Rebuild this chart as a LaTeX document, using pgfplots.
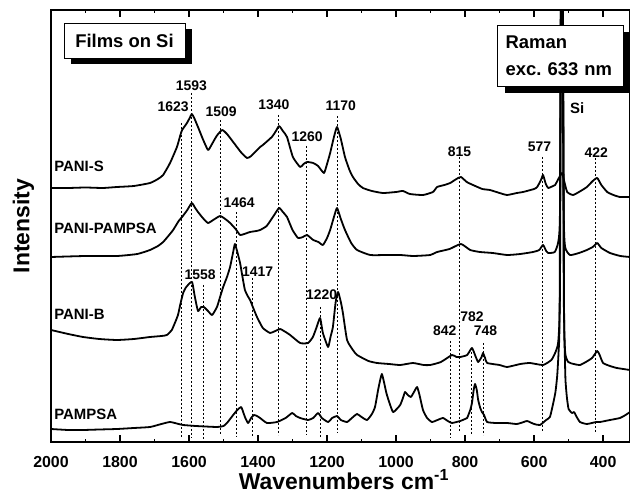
\documentclass[border=0pt]{standalone}
\usepackage{fontspec}
\setmainfont{Liberation Sans}
\usepackage{pgfplots}
\pgfplotsset{compat=1.18}

\newcommand{\pk}{\fontsize{14}{14}\selectfont\bfseries}
\newcommand{\cl}{\fontsize{15}{15}\selectfont\bfseries}
\newcommand{\bx}{\fontsize{18.5}{27}\selectfont\bfseries\frenchspacing}

\begin{document}
\begin{tikzpicture}
\begin{axis}[
    name=ax,
    scale only axis,
    width=579bp, height=432bp,
    xmin=322, xmax=2000, ymin=0, ymax=432,
    x dir=reverse,
    xtick={400,600,...,2000},
    minor x tick num=1,
    ytick=\empty,
    tick align=inside,
    major tick length=7bp, minor tick length=3.5bp,
    axis line style={line width=2bp},
    every tick/.style={line width=1.5bp, black},
    /pgf/number format/assume math mode=true,
    /pgf/number format/1000 sep={},
    xticklabel style={font=\fontsize{16}{16}\selectfont\bfseries, anchor=base, yshift=-25bp},
    xlabel={Wavenumbers cm\textsuperscript{-1}},
    ylabel={Intensity},
    xlabel style={font=\fontsize{23}{23}\selectfont\bfseries, at={(axis description cs:0.506,-0.111)}, anchor=base},
    ylabel style={font=\fontsize{23}{23}\selectfont\bfseries, at={(axis description cs:-0.0475,0.5)}, anchor=center},
    spec/.style={black, line width=1.8bp, line join=round, mark=none, smooth, tension=0.3},
    peak/.style={black, line width=0.8bp, dash pattern=on 2.5bp off 1.5bp, mark=none},
]

% PANI-S
\addplot[spec] coordinates {
(2000,254) (1950,254) (1900,254.5) (1850,254) (1809,255) (1760,256) (1713,259)
(1690,263) (1675,267) (1655,279) (1635,295) (1625,307) (1620,312) (1612,316)
(1606,319) (1598,324) (1592,328) (1585,324) (1574,315) (1560,303) (1545,292)
(1535,297) (1520,306) (1504,312) (1490,308) (1472,300) (1450,290) (1432,284)
(1420,286) (1394,295) (1386,297) (1360,305) (1348,311) (1339,316) (1328,311)
(1316,305) (1299,285) (1278,275) (1268,278) (1258,280) (1240,279) (1226,276)
(1209,269) (1200,278) (1191,289) (1180,305) (1171,315) (1160,303) (1148,285)
(1135,272) (1125,265) (1110,258) (1096,254) (1070,251) (1038,249) (1000,250)
(980,251) (960,248) (922,247) (893,250) (881,255) (860,257) (843,259) (825,263)
(812,265) (795,260) (777,257) (750,253) (728,252) (700,249) (678,247) (650,249)
(632,250) (600,253) (591,255) (580,262) (574,267) (566,258) (559,254) (545,256)
(539,257) (525,266) (519,269) (512,260) (504,250) (487,247) (465,251) (447,255)
(430,261) (417,264) (405,257) (388,250) (370,247) (351,245) (322,245)
};

% PANI-PAMPSA
\addplot[spec] coordinates {
(2000,185) (1900,186) (1809,186) (1750,188) (1713,192) (1690,196) (1675,200)
(1660,206) (1646,212) (1630,221) (1620,225) (1605,232) (1592,239) (1582,234)
(1574,230) (1560,224) (1545,219) (1530,222) (1510,226) (1495,223) (1481,219)
(1465,213) (1452,207) (1440,208) (1423,210) (1405,211) (1394,212) (1375,216)
(1355,226) (1339,234) (1328,230) (1316,225) (1300,212) (1284,204) (1270,205)
(1258,207) (1240,202) (1225,200) (1212,197) (1200,204) (1191,212) (1180,225)
(1171,234) (1160,223) (1148,212) (1130,199) (1113,192) (1075,187) (1030,187)
(988,187) (950,186) (901,187) (881,190) (845,193) (812,198) (785,192) (757,190)
(720,189) (678,187) (640,188) (603,190) (585,192) (574,197) (565,191) (559,189)
(540,190) (530,200) (525,230) (521.5,500) (517.5,500) (514,230) (510,195) (496,187)
(470,189) (447,192) (430,195) (417,199) (405,194) (380,189) (350,186) (322,185)
};

% PANI-B
\addplot[spec] coordinates {
(2000,112) (1950,108) (1907,105) (1860,103) (1809,102) (1760,103) (1713,105)
(1680,106) (1664,107) (1650,112) (1641,119) (1632,127) (1625,138) (1617,149)
(1610,154) (1603,157) (1591,160) (1583,145) (1574,131) (1565,135) (1557,135)
(1545,131) (1533,127) (1519,135) (1510,145) (1501,155) (1490,165) (1481,175)
(1472,190) (1467,198) (1460,190) (1452,179) (1445,165) (1438,152) (1430,146)
(1423,142) (1415,135) (1403,125) (1386,114) (1365,109) (1350,111) (1336,113)
(1320,110) (1307,107) (1278,99) (1255,99) (1241,105) (1230,115) (1220,124)
(1212,109) (1197,95) (1190,105) (1183,115) (1175,140) (1168,150) (1160,140)
(1154,129) (1142,102) (1125,92) (1113,87) (1080,81) (1055,79) (1020,78) (988,77)
(951,79) (920,77) (901,77) (870,80) (838,87) (825,85) (814,85) (794,87) (780,94)
(770,86) (762,80) (752,85) (748,89) (742,84) (736,79) (700,77) (678,75) (640,78)
(612,79) (574,77) (550,82) (539,89) (530,100) (525,150) (521,500) (518,500)
(514,150) (510,90) (501,80) (485,78) (467,77) (450,80) (432,84) (417,91) (410,87)
(400,79) (380,76) (360,74) (322,72)
};

% PAMPSA
\addplot[spec] coordinates {
(2000,13) (1950,12) (1907,12) (1860,12.5) (1809,13) (1760,14) (1713,15) (1680,18)
(1655,20) (1630,18) (1617,17) (1580,16) (1519,15) (1500,16) (1490,19) (1472,27)
(1460,32) (1449,35) (1443,30) (1438,25) (1429,19) (1420,24) (1412,27) (1403,26)
(1394,24) (1374,19) (1345,20) (1320,24) (1301,29) (1290,26) (1278,24) (1255,22)
(1240,24) (1226,29) (1215,24) (1197,20) (1185,24) (1171,26) (1160,22) (1142,20)
(1128,24) (1113,28) (1100,25) (1084,22) (1070,28) (1061,35) (1052,52) (1046,62)
(1041,68) (1035,60) (1028,49) (1020,40) (1009,30) (998,33) (988,37) (980,44)
(974,50) (966,47) (957,45) (948,50) (939,55) (932,47) (922,32) (910,24) (896,20)
(880,22) (864,24) (850,21) (838,19) (814,21) (800,23) (794,24) (785,32) (780,39)
(775,52) (771,58) (766,52) (762,42) (756,34) (751,30) (745,27) (736,20) (710,19)
(678,19) (650,18) (630,20) (620,21) (600,18) (583,17) (565,22) (554,25) (545,38)
(538,50) (533,66) (529,90) (526,130) (522,500) (517,500) (513,130) (511,90)
(509,62) (505,45) (500,33) (490,29) (484,30) (478,26) (467,20) (447,18) (420,20)
(409,20) (380,22) (351,24) (335,27) (322,30)
};

% peak markers
\addplot[peak] coordinates {(1623,319) (1623,5)};
\addplot[peak] coordinates {(1593,349) (1593,4)};
\addplot[peak] coordinates {(1558,157) (1558,2)};
\addplot[peak] coordinates {(1509,322) (1509,7)};
\addplot[peak] coordinates {(1464,230) (1464,5)};
\addplot[peak] coordinates {(1417,164) (1417,5)};
\addplot[peak] coordinates {(1340,327) (1340,7)};
\addplot[peak] coordinates {(1260,296) (1260,7)};
\addplot[peak] coordinates {(1220,135) (1220,4)};
\addplot[peak] coordinates {(1170,326) (1170,9)};
\addplot[peak] coordinates {(842,101) (842,4)};
\addplot[peak] coordinates {(815,285) (815,10)};
\addplot[peak] coordinates {(782,94) (782,8)};
\addplot[peak] coordinates {(748,99) (748,7)};
\addplot[peak] coordinates {(577,285) (577,10)};
\addplot[peak] coordinates {(422,284) (422,9)};

% peak labels
\node[font=\pk] at (axis cs:1593,356) {1593};
\node[font=\pk] at (axis cs:1646,335) {1623};
\node[font=\pk] at (axis cs:1507,330) {1509};
\node[font=\pk] at (axis cs:1354,337) {1340};
\node[font=\pk] at (axis cs:1258,305) {1260};
\node[font=\pk] at (axis cs:1160,336) {1170};
\node[font=\pk] at (axis cs:816,290) {815};
\node[font=\pk] at (axis cs:584,295) {577};
\node[font=\pk] at (axis cs:420,289) {422};
\node[font=\pk] at (axis cs:1455,239) {1464};
\node[font=\pk] at (axis cs:1568,167) {1558};
\node[font=\pk] at (axis cs:1401,170) {1417};
\node[font=\pk] at (axis cs:1216,147) {1220};
\node[font=\pk] at (axis cs:859,111) {842};
\node[font=\pk] at (axis cs:780,125) {782};
\node[font=\pk] at (axis cs:741,111) {748};
\node[font=\cl] at (axis cs:475,334) {Si};

% sample names
\node[font=\cl, anchor=west, inner sep=0] at (axis cs:1991,276) {PANI-S};
\node[font=\cl, anchor=west, inner sep=0] at (axis cs:1991,214) {PANI-PAMPSA};
\node[font=\cl, anchor=west, inner sep=0] at (axis cs:1991,128) {PANI-B};
\node[font=\cl, anchor=west, inner sep=0] at (axis cs:1991,28) {PAMPSA};

% boxes with shadow
\fill[black] ([xshift=7bp,yshift=-6bp]axis cs:1787,401.5) ++(-60.5bp,-17.5bp) rectangle ++(121bp,35bp);
\node[draw=black, line width=0.8bp, fill=white, minimum width=121bp, minimum height=35bp,
      inner sep=0, font=\bx] at (axis cs:1787,401.5) {Films on Si};
\fill[black] ([xshift=7bp,yshift=-7bp]axis cs:523.2,386.5) ++(-62.5bp,-30.5bp) rectangle ++(125bp,61bp);
\node[draw=black, line width=0.8bp, fill=white, minimum width=125bp, minimum height=61bp,
      text width=110bp, align=left, inner xsep=8bp, inner ysep=0, font=\bx]
      at (axis cs:523.2,386.5) {Raman\\exc. 633 nm};
\end{axis}
\pgfresetboundingbox
\path (ax.south west) ++(-51bp,-54bp) rectangle ++(630bp,496bp);
\end{tikzpicture}
\end{document}
